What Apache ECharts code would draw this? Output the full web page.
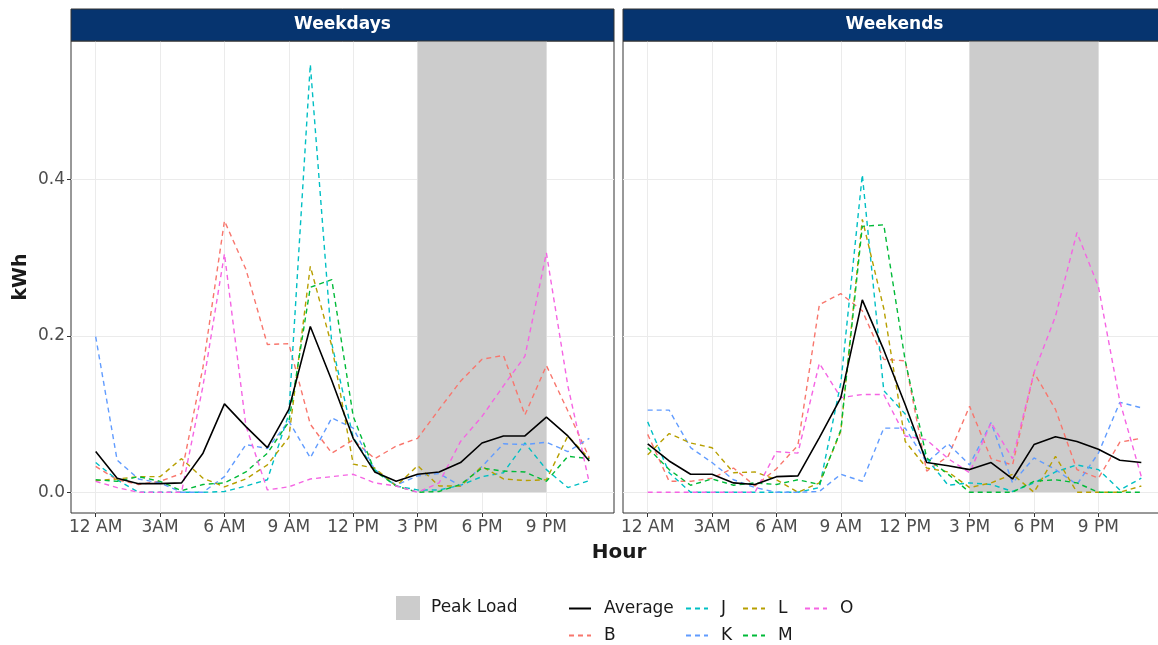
<!DOCTYPE html>
<html>
<head>
<meta charset="utf-8">
<title>Hourly load</title>
<script src="https://cdn.jsdelivr.net/npm/echarts@6/dist/echarts.min.js"></script>
<style>
  html, body { margin: 0; padding: 0; background: #fff; }
  #chart { width: 1158px; height: 645px; }
</style>
</head>
<body>
<div id="chart"></div>
<script>
var hours = [0, 1, 2, 3, 4, 5, 6, 7, 8, 9, 10, 11, 12, 13, 14, 15, 16, 17, 18, 19, 20, 21, 22, 23];
var hourTicks = [0, 3, 6, 9, 12, 15, 18, 21];
var hourLabels = ['12 AM', '3AM', '6 AM', '9 AM', '12 PM', '3 PM', '6 PM', '9 PM'];
var kwhTicks = [0, 0.2, 0.4];
var peakHours = [15, 21];
var panels = ['Weekdays', 'Weekends'];

// weekdays, kWh per hour
var wdAverage = [0.052, 0.018, 0.011, 0.011, 0.012, 0.050, 0.113, 0.084, 0.057, 0.106, 0.212, 0.143, 0.069, 0.026, 0.014, 0.023, 0.026, 0.038, 0.063, 0.072, 0.072, 0.096, 0.072, 0.040];
var wdB = [0.033, 0.016, 0.010, 0.014, 0.024, 0.160, 0.347, 0.285, 0.189, 0.190, 0.087, 0.050, 0.067, 0.043, 0.059, 0.069, 0.106, 0.142, 0.170, 0.175, 0.099, 0.162, 0.104, 0.044];
var wdJ = [0.038, 0.016, 0.000, 0.000, 0.000, 0.000, 0.001, 0.008, 0.016, 0.100, 0.547, 0.190, 0.070, 0.029, 0.008, 0.003, 0.003, 0.009, 0.020, 0.025, 0.063, 0.029, 0.006, 0.015];
var wdK = [0.199, 0.041, 0.017, 0.012, 0.000, 0.000, 0.020, 0.061, 0.056, 0.091, 0.044, 0.095, 0.082, 0.029, 0.009, 0.021, 0.024, 0.008, 0.033, 0.062, 0.061, 0.064, 0.052, 0.069];
var wdL = [0.015, 0.017, 0.020, 0.020, 0.043, 0.018, 0.007, 0.017, 0.035, 0.070, 0.289, 0.187, 0.036, 0.031, 0.008, 0.034, 0.008, 0.008, 0.033, 0.017, 0.015, 0.016, 0.072, 0.043];
var wdM = [0.016, 0.014, 0.020, 0.014, 0.002, 0.010, 0.012, 0.026, 0.050, 0.090, 0.262, 0.272, 0.097, 0.027, 0.008, 0.000, 0.001, 0.010, 0.031, 0.027, 0.026, 0.014, 0.046, 0.043];
var wdO = [0.014, 0.006, 0.000, 0.000, 0.000, 0.136, 0.305, 0.085, 0.003, 0.007, 0.017, 0.020, 0.023, 0.012, 0.008, 0.000, 0.012, 0.065, 0.097, 0.136, 0.174, 0.306, 0.136, 0.012];

// weekends
var weAverage = [0.062, 0.040, 0.023, 0.023, 0.012, 0.010, 0.020, 0.021, 0.070, 0.121, 0.246, 0.182, 0.112, 0.038, 0.034, 0.029, 0.038, 0.017, 0.061, 0.071, 0.065, 0.055, 0.041, 0.038];
var weB = [0.074, 0.014, 0.014, 0.018, 0.031, 0.008, 0.030, 0.060, 0.240, 0.254, 0.232, 0.170, 0.168, 0.027, 0.046, 0.110, 0.043, 0.035, 0.153, 0.106, 0.029, 0.018, 0.064, 0.069];
var weJ = [0.090, 0.025, 0.000, 0.000, 0.000, 0.000, 0.000, 0.000, 0.006, 0.140, 0.406, 0.130, 0.100, 0.043, 0.009, 0.012, 0.010, 0.001, 0.012, 0.026, 0.035, 0.029, 0.003, 0.018];
var weK = [0.105, 0.105, 0.057, 0.038, 0.016, 0.006, 0.000, 0.000, 0.001, 0.023, 0.014, 0.082, 0.082, 0.038, 0.062, 0.035, 0.089, 0.012, 0.044, 0.029, 0.010, 0.050, 0.115, 0.108];
var weL = [0.048, 0.075, 0.063, 0.057, 0.025, 0.026, 0.016, 0.000, 0.012, 0.078, 0.349, 0.235, 0.065, 0.031, 0.026, 0.006, 0.012, 0.023, 0.000, 0.046, 0.000, 0.000, 0.000, 0.008];
var weM = [0.057, 0.029, 0.009, 0.017, 0.009, 0.012, 0.010, 0.016, 0.010, 0.080, 0.340, 0.342, 0.168, 0.044, 0.023, 0.000, 0.000, 0.000, 0.014, 0.016, 0.012, 0.000, 0.000, 0.000];
var weO = [0.000, 0.000, 0.000, 0.000, 0.000, 0.000, 0.052, 0.050, 0.165, 0.121, 0.125, 0.125, 0.072, 0.067, 0.043, 0.025, 0.089, 0.043, 0.153, 0.225, 0.332, 0.263, 0.116, 0.020];

var names = ['B', 'J', 'K', 'L', 'M', 'O', 'Average'];
var panelData = [
    { B: wdB, J: wdJ, K: wdK, L: wdL, M: wdM, O: wdO, Average: wdAverage },
    { B: weB, J: weJ, K: weK, L: weL, M: weM, O: weO, Average: weAverage }
];

(function () {
    var colors = {
        B: '#F8766D', J: '#00BFC4', K: '#619CFF', L: '#B79F00',
        M: '#00BA38', O: '#F564E3', Average: '#000000'
    };
    var font = '"DejaVu Sans", Verdana, sans-serif';
    var xMin = -1.15, xMax = 24.15;
    var yMin = -0.0265, yMax = 0.577;
    var gridLeft = [71, 623];
    var gridWidth = 543;

    var myChart = echarts.init(document.getElementById('chart'));

    var grids = [], xAxes = [], yAxes = [], series = [], graphics = [];

    panels.forEach(function (panel, p) {
        grids.push({
            left: gridLeft[p], top: 41, width: gridWidth, height: 472,
            outerBoundsMode: 'none', containLabel: false,
            show: true, borderColor: '#333333', borderWidth: 1, backgroundColor: '#ffffff'
        });
        xAxes.push({
            type: 'value', gridIndex: p, min: xMin, max: xMax, position: 'bottom',
            axisLine: { show: false, onZero: false },
            axisTick: { show: true, length: 4, lineStyle: { color: '#333333' }, customValues: hourTicks },
            axisLabel: {
                customValues: hourTicks, color: '#4d4d4d', fontSize: 17, fontFamily: font, margin: 6,
                formatter: function (v) { return hourLabels[hourTicks.indexOf(v)]; }
            },
            splitLine: { show: true, lineStyle: { color: '#ebebeb', width: 1 } }
        });
        yAxes.push({
            type: 'value', gridIndex: p, min: yMin, max: yMax, position: 'left',
            name: p === 0 ? 'kWh' : '', nameLocation: 'middle', nameGap: 40, nameRotate: 90,
            nameTextStyle: { fontSize: 19, fontWeight: 'bold', color: '#1a1a1a', fontFamily: font },
            axisLine: { show: false, onZero: false },
            axisTick: { show: p === 0, length: 4, lineStyle: { color: '#333333' }, customValues: kwhTicks },
            axisLabel: {
                show: p === 0, customValues: kwhTicks, color: '#4d4d4d', fontSize: 17, fontFamily: font, margin: 6,
                formatter: function (v) { return v.toFixed(1); }
            },
            splitLine: { show: true, lineStyle: { color: '#ebebeb', width: 1 } }
        });

        // shaded peak window
        series.push({
            name: 'Peak Load', type: 'line', xAxisIndex: p, yAxisIndex: p,
            data: [], symbol: 'none', silent: true, z: 1,
            itemStyle: { color: '#cccccc' },
            lineStyle: { color: '#cccccc' },
            markArea: {
                silent: true,
                itemStyle: { color: '#cccccc' },
                data: [[{ xAxis: peakHours[0], yAxis: 0 }, { xAxis: peakHours[1], yAxis: yMax }]]
            }
        });

        names.forEach(function (n) {
            var vals = panelData[p][n];
            var avg = n === 'Average';
            series.push({
                name: n, type: 'line', xAxisIndex: p, yAxisIndex: p,
                data: hours.map(function (h, i) { return [h, vals[i]]; }),
                symbol: 'none', silent: true, z: avg ? 4 : 3,
                itemStyle: { color: colors[n] },
                lineStyle: { color: colors[n], width: avg ? 1.6 : 1.4, type: avg ? 'solid' : [5, 4] }
            });
        });

        graphics.push({
            type: 'rect', z: 10,
            shape: { x: gridLeft[p], y: 9, width: gridWidth, height: 32 },
            style: { fill: '#06346f', stroke: '#333333', lineWidth: 1 }
        });
        graphics.push({
            type: 'text', z: 11, x: gridLeft[p] + gridWidth / 2, y: 25,
            style: { text: panel, fill: '#ffffff', font: 'bold 17px ' + font, textAlign: 'center', textVerticalAlign: 'middle' }
        });
    });

    graphics.push({
        type: 'text', x: 619, y: 553,
        style: { text: 'Hour', fill: '#1a1a1a', font: 'bold 20px ' + font, textAlign: 'center', textVerticalAlign: 'middle' }
    });

    // one legend per key so the ggplot-like column layout can be kept
    var legendPos = [
        ['Average', 568, 600], ['J', 685, 600], ['L', 742, 600], ['O', 804, 600],
        ['B', 568, 627], ['K', 685, 627], ['M', 742, 627]
    ];
    var legends = [{
        data: ['Peak Load'], left: 396, top: 596, padding: 0, selectedMode: false,
        icon: 'rect', itemWidth: 24, itemHeight: 24,
        itemStyle: { color: '#cccccc' },
        textStyle: { fontSize: 17, color: '#1a1a1a', fontFamily: font, padding: [0, 0, 0, 6] }
    }];
    legendPos.forEach(function (l) {
        legends.push({
            data: [l[0]], left: l[1], top: l[2], padding: 0, selectedMode: false,
            itemWidth: 22, itemHeight: 16,
            itemStyle: { opacity: 0 },
            textStyle: { fontSize: 17, color: '#1a1a1a', fontFamily: font, padding: [0, 0, 0, 8] }
        });
    });

    var option = {
        backgroundColor: '#ffffff',
        animation: false,
        grid: grids,
        xAxis: xAxes,
        yAxis: yAxes,
        legend: legends,
        series: series,
        graphic: graphics
    };
    myChart.setOption(option);
})();
</script>
</body>
</html>
